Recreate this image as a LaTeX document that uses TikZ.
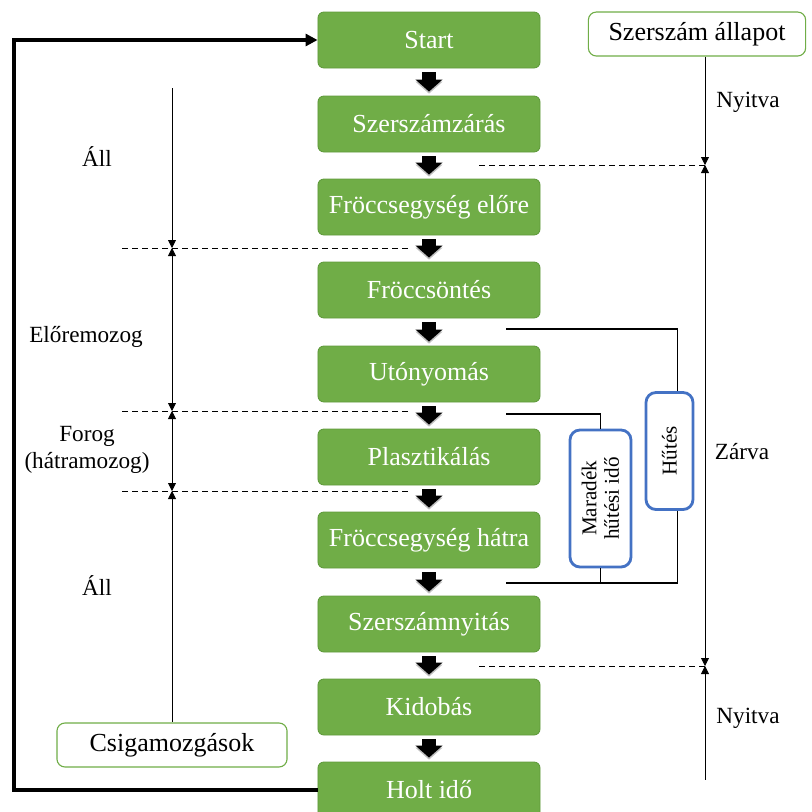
\documentclass[tikz,border=0pt]{standalone}
\usepackage{fontspec}
\setmainfont{Liberation Serif}
\usetikzlibrary{arrows.meta,positioning,calc}
\definecolor{stepgreen}{HTML}{70AD47}
\definecolor{stepgreendark}{HTML}{5F9A3B}
\definecolor{coolblue}{HTML}{4472C4}

\begin{document}
\begin{tikzpicture}[x=0.025cm,y=-0.025cm,
  stepbox/.style={draw=stepgreendark,fill=stepgreen,rounded corners=0.15cm,minimum width=5.55cm,minimum height=1.4cm,text=white,font=\fontsize{18.5}{22}\selectfont,line width=0.6pt},
  headbox/.style={draw=stepgreen,fill=white,rounded corners=0.2cm,minimum height=1.1cm,font=\fontsize{18.5}{22}\selectfont,line width=0.8pt},
  coolbox/.style={draw=coolblue,fill=white,rounded corners=0.25cm,line width=2pt,rotate=90,font=\fontsize{15}{16}\selectfont,align=center,inner sep=2pt},
  fatarrow/.style={line width=0.35cm,-{Triangle[length=0.3cm,width=0.66cm]},shorten <=0.1cm,shorten >=0.1cm,
    preaction={draw=black!25,transform canvas={yshift=-1.5pt}}},
  dimline/.style={line width=0.6pt,>={Triangle[length=0.2cm,width=0.2cm]}},
  guideline/.style={line width=0.6pt,dash pattern=on 0.15cm off 0.1cm},
  bracket/.style={line width=0.8pt},
  sidelabel/.style={font=\fontsize{16.5}{19}\selectfont,align=center}]
  \useasboundingbox (0,0) rectangle (812,812);

  % cycle steps
  \node[stepbox] (start) at (429,40) {Start};
  \node[stepbox] (close) at (429,124) {Szerszámzárás};
  \node[stepbox] (advance) at (429,207) {Fröccsegység előre};
  \node[stepbox] (inject) at (429,290) {Fröccsöntés};
  \node[stepbox] (hold) at (429,374) {Utónyomás};
  \node[stepbox] (plastic) at (429,457) {Plasztikálás};
  \node[stepbox] (retract) at (429,540) {Fröccsegység hátra};
  \node[stepbox] (open) at (429,624) {Szerszámnyitás};
  \node[stepbox] (eject) at (429,707) {Kidobás};
  \node[stepbox] (dead) at (429,790) {Holt idő};
  \draw[fatarrow] (start) -- (close);
  \draw[fatarrow] (close) -- (advance);
  \draw[fatarrow] (advance) -- (inject);
  \draw[fatarrow] (inject) -- (hold);
  \draw[fatarrow] (hold) -- (plastic);
  \draw[fatarrow] (plastic) -- (retract);
  \draw[fatarrow] (retract) -- (open);
  \draw[fatarrow] (open) -- (eject);
  \draw[fatarrow] (eject) -- (dead);

  % loop back
  \coordinate (loopturn) at (14,790);
  \draw[line width=2.2pt,-{Triangle[length=0.3cm,width=0.3cm]}] (dead.west) -- (loopturn) |- (start.west);

  % screw movements
  \node[headbox,minimum width=5.75cm] (screw) at (172,745) {Csigamozgások};
  \coordinate (ltop) at (172,88);
  \coordinate (l1) at (172,248);
  \coordinate (l2) at (172,411);
  \coordinate (l3) at (172,491);
  \draw[dimline,->] (ltop) -- (l1);
  \draw[dimline,<->] (l1) -- (l2);
  \draw[dimline,<->] (l2) -- (l3);
  \draw[dimline,<-] (l3) -- (screw);
  \draw[guideline] (l1) ++(-50,0) -- ++(288,0);
  \draw[guideline] (l2) ++(-50,0) -- ++(288,0);
  \draw[guideline] (l3) ++(-50,0) -- ++(288,0);
  \node[sidelabel] (still1) at (97,157) {Áll};
  \node[sidelabel] (forward) at (86,337) {Előremozog};
  \node[sidelabel] (turn) at (87,450) {Forog\\(hátramozog)};
  \node[sidelabel] (still2) at (97,586) {Áll};

  % mould state
  \node[headbox,minimum width=5.43cm] (state) at (697,34) {Szerszám állapot};
  \coordinate (r1) at (705,165);
  \coordinate (r2) at (705,666);
  \coordinate (rend) at (705,780);
  \draw[dimline,->] (state.south -| r1) -- (r1);
  \draw[dimline,<->] (r1) -- (r2);
  \draw[dimline,<-] (r2) -- (rend);
  \draw[guideline] (r1) -- ++(-229,0);
  \draw[guideline] (r2) -- ++(-229,0);
  \node[sidelabel] (open1) at (748,102) {Nyitva};
  \node[sidelabel] (closed) at (742,452) {Zárva};
  \node[sidelabel] (open2) at (748,718) {Nyitva};

  % cooling
  \node[coolbox,minimum width=2.925cm,minimum height=1.175cm] (cool) at (669.5,451) {Hűtés};
  \node[coolbox,minimum width=3.425cm,minimum height=1.525cm] (rest) at (600.5,498.5) {Maradék\\hűtési idő};
  \draw[bracket] (506,329) -| ([xshift=0.21cm]cool.east);
  \draw[bracket] ([xshift=0.21cm]cool.west) |- (506,583);
  \draw[bracket] (506,414) -| (rest.east);
  \draw[bracket] (rest.west) -- (rest.west |- 0,583);
\end{tikzpicture}
\end{document}
